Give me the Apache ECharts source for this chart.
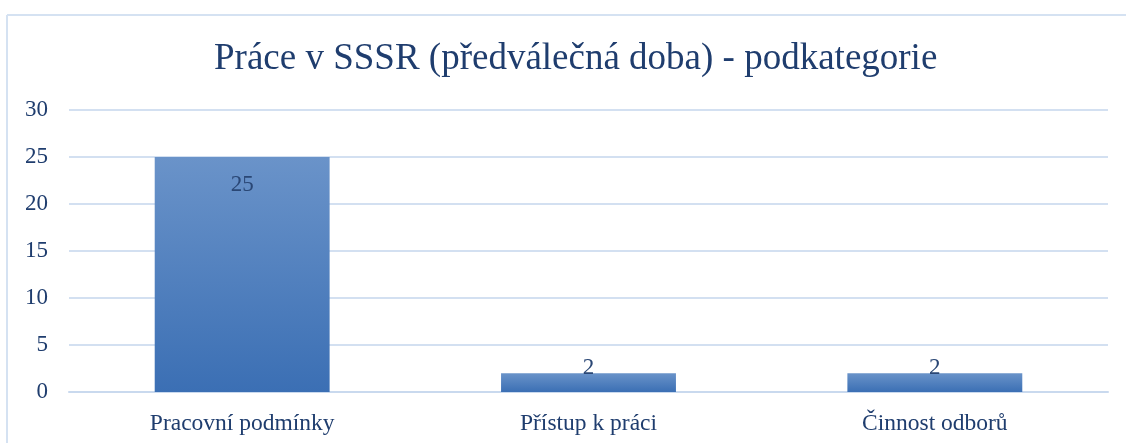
<!DOCTYPE html>
<html>
<head>
<meta charset="utf-8">
<script src="https://cdn.jsdelivr.net/npm/echarts@6/dist/echarts.min.js"></script>
<style>
  html, body { margin: 0; padding: 0; background: #fff; }
  #chart { width: 1126px; height: 443px; }
</style>
</head>
<body>
<div id="chart"></div>
<script>
// data
const categories = ['Pracovní podmínky', 'Přístup k práci', 'Činnost odborů']
const counts = [25, 2, 2]
const yTicks = { min: 0, max: 30, step: 5 }

const textColor = '#1f3d6e'
const fontFam = '"Liberation Serif", "Times New Roman", serif'

const myChart = echarts.init(document.getElementById('chart'))

const option = {
    backgroundColor: '#fff',
    animation: false,
    title: {
        text: 'Práce v SSSR (předválečná doba) - podkategorie',
        left: 209,
        top: 36,
        textStyle: { fontFamily: fontFam, fontSize: 37, fontWeight: 'normal', color: textColor }
    },
    grid: { left: 69, right: 18, top: 110, bottom: 51 },
    xAxis: {
        type: 'category',
        data: categories,
        axisTick: { show: false },
        axisLine: { lineStyle: { color: '#c9d9ee', width: 2 } },
        axisLabel: { fontFamily: fontFam, fontSize: 23.5, color: textColor, margin: 20 }
    },
    yAxis: {
        type: 'value',
        min: yTicks.min,
        max: yTicks.max,
        interval: yTicks.step,
        axisLine: { show: false },
        axisTick: { show: false },
        splitLine: { lineStyle: { color: '#d3e0f1', width: 2 } },
        axisLabel: { fontFamily: fontFam, fontSize: 23, color: textColor, margin: 21 }
    },
    series: [{
        type: 'bar',
        barWidth: '50.5%',
        data: counts.map((v, i) => ({
            value: v,
            label: i === 0
                ? { position: 'insideTop', distance: 16 }
                : { position: 'top', distance: -6 }
        })),
        itemStyle: {
            color: new echarts.graphic.LinearGradient(0, 0, 0, 1, [
                { offset: 0, color: '#6a93c9' },
                { offset: 1, color: '#3b6fb4' }
            ])
        },
        label: {
            show: true,
            fontFamily: fontFam,
            fontSize: 23,
            color: '#2a4775'
        }
    }],
    graphic: [
        { type: 'line', shape: { x1: 7, y1: 15, x2: 1126, y2: 15 }, style: { stroke: '#d5e2f2', lineWidth: 2 } },
        { type: 'line', shape: { x1: 7, y1: 15, x2: 7, y2: 443 }, style: { stroke: '#d5e2f2', lineWidth: 2 } }
    ]
}

myChart.setOption(option)
</script>
</body>
</html>
